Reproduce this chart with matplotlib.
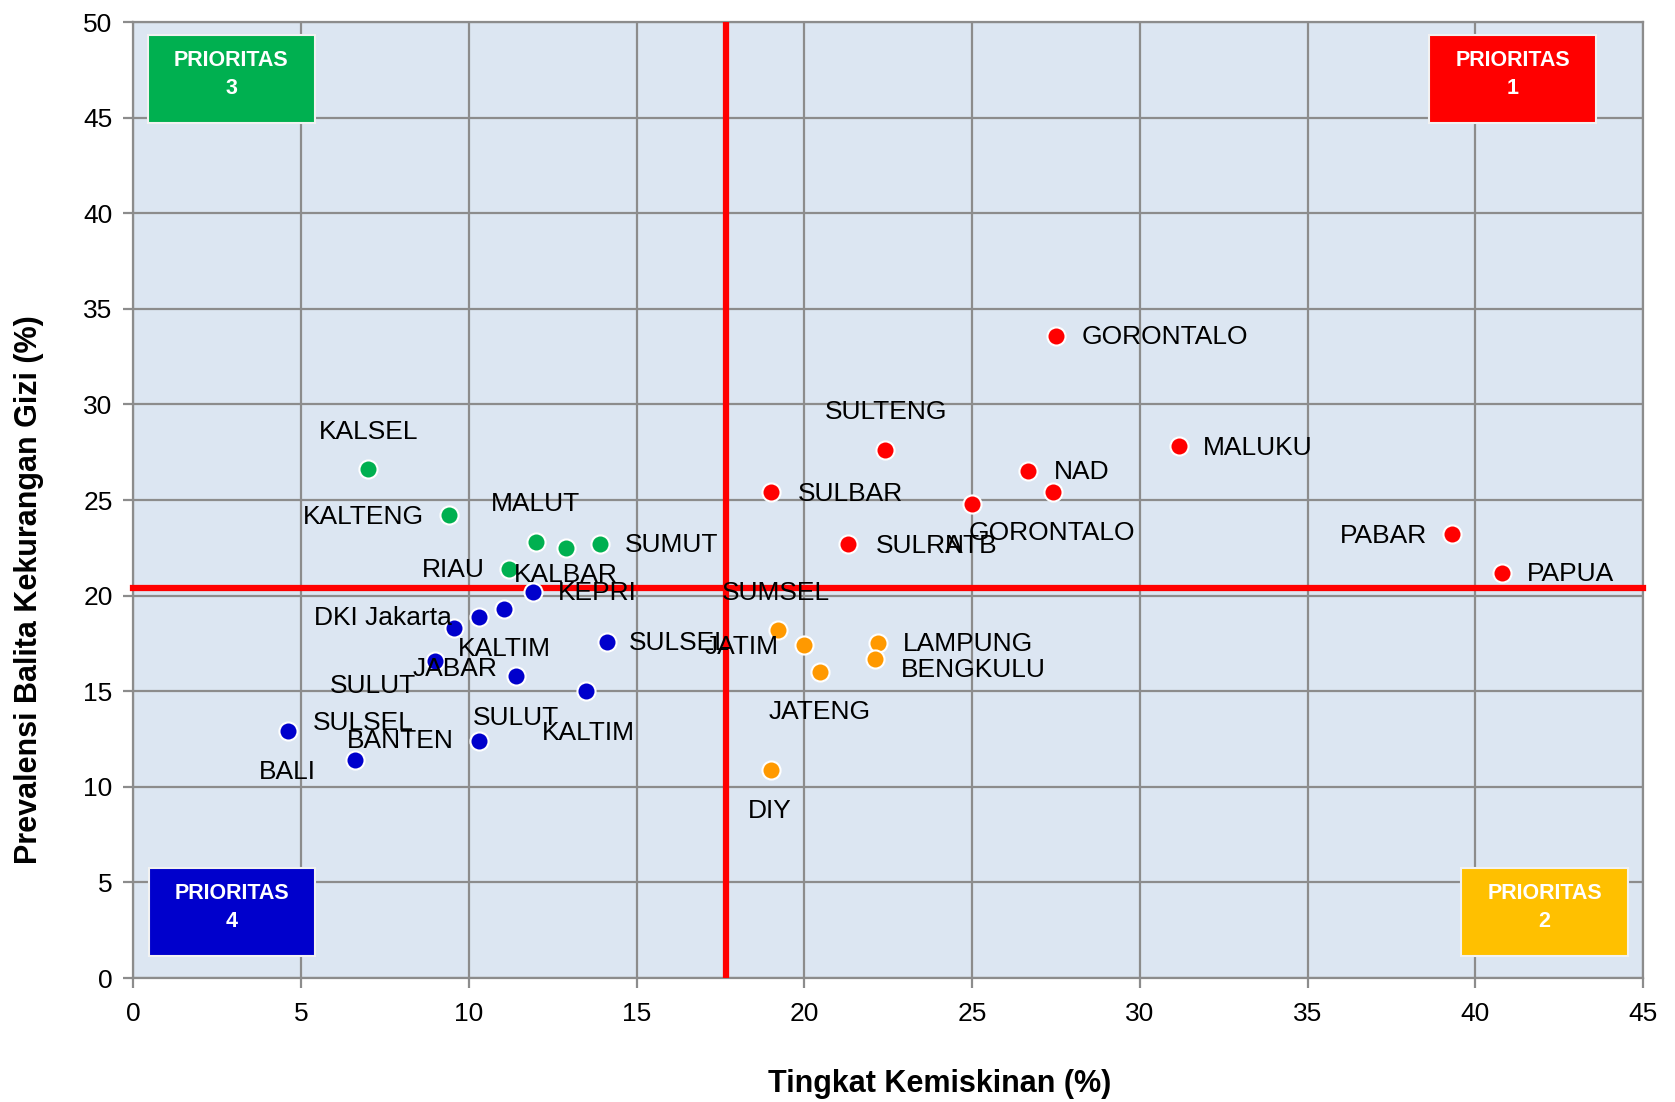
import matplotlib
matplotlib.use("Agg")
import matplotlib.pyplot as plt
from matplotlib import font_manager
from matplotlib.patches import Rectangle

# data: (tingkat kemiskinan, prevalensi gizi kurang)
green_x = [7.0, 9.4, 12.0, 12.9, 13.9, 11.2]
green_y = [26.6, 24.2, 22.8, 22.5, 22.7, 21.4]
blue_x = [11.9, 11.05, 10.3, 9.55, 14.1, 9.0, 11.4, 13.5, 4.6, 6.6, 10.3]
blue_y = [20.2, 19.3, 18.9, 18.3, 17.6, 16.6, 15.8, 15.0, 12.9, 11.4, 12.4]
orange_x = [19.2, 20.0, 20.45, 22.2, 22.1, 19.0]
orange_y = [18.2, 17.4, 16.0, 17.5, 16.7, 10.9]
red_x = [19.0, 22.4, 21.3, 25.0, 26.65, 27.4, 27.5, 31.15, 39.3, 40.8]
red_y = [25.4, 27.6, 22.7, 24.8, 26.5, 25.4, 33.6, 27.8, 23.2, 21.2]

labels = ["KALSEL", "KALTENG", "MALUT", "SUMUT", "RIAU", "KALBAR",
          "KEPRI", "DKI Jakarta", "KALTIM", "JABAR", "SULUT", "SULSEL",
          "BANTEN", "BALI", "SULUT", "KALTIM", "SULSEL",
          "SUMSEL", "JATIM", "JATENG", "DIY", "LAMPUNG", "BENGKULU",
          "SULBAR", "SULTENG", "SULRA", "NTB", "GORONTALO", "NAD",
          "GORONTALO", "MALUKU", "PABAR", "PAPUA"]
# label centres as placed in the original chart
label_x = [7.01, 6.85, 11.97, 16.05, 9.52, 12.90,
           13.82, 7.45, 11.05, 9.59, 7.13, 6.85,
           7.96, 4.59, 11.40, 13.57, 16.27,
           19.14, 18.12, 20.45, 18.98, 24.87, 25.03,
           21.37, 22.42, 23.44, 24.97, 27.36, 28.25,
           30.73, 33.50, 37.26, 42.83]
label_y = [28.57, 24.11, 24.78, 22.66, 21.32, 21.09,
           20.15, 18.81, 17.19, 16.18, 15.29, 13.34,
           12.39, 10.77, 13.62, 12.83, 17.52,
           20.15, 17.30, 13.90, 8.71, 17.47, 16.13,
           25.33, 29.63, 22.60, 22.60, 23.27, 26.45,
           33.54, 27.73, 23.10, 21.15]

cut_x = 17.67
cut_y = 20.42

names = {f.name for f in font_manager.fontManager.ttflist}
if "Liberation Sans Narrow" in names:
    fam = ["Liberation Sans Narrow", "DejaVu Sans"]
    fs = 22
else:
    fam = ["Liberation Sans", "DejaVu Sans"]
    fs = 19
plt.rcParams["font.family"] = fam

fig = plt.figure(figsize=(16.75, 11.02), dpi=100)
ax = fig.add_axes([0.0797, 0.1125, 0.9013, 0.8675])
ax.set_facecolor("#DCE6F2")

ax.scatter(green_x, green_y, s=170, color="#00B050", edgecolors="white", linewidths=1.5, zorder=4)
ax.scatter(blue_x, blue_y, s=170, color="#0000CC", edgecolors="white", linewidths=1.5, zorder=4)
ax.scatter(orange_x, orange_y, s=170, color="#FF9900", edgecolors="white", linewidths=1.5, zorder=4)
ax.scatter(red_x, red_y, s=170, color="#FF0000", edgecolors="white", linewidths=1.5, zorder=4)

ax.axvline(cut_x, color="#FF0000", lw=4.5, zorder=3)
ax.axhline(cut_y, color="#FF0000", lw=4.5, zorder=3, clip_on=False)

for t, x, y in zip(labels, label_x, label_y):
    ax.text(x, y, t, ha="center", va="center", fontsize=fs, color="black", zorder=6)

boxes = [(0.43, 44.7, "#00B050", "PRIORITAS\n3"),
         (38.62, 44.7, "#FF0000", "PRIORITAS\n1"),
         (0.45, 1.15, "#0000CC", "PRIORITAS\n4"),
         (39.58, 1.15, "#FFC000", "PRIORITAS\n2")]
for bx, by, c, t in boxes:
    ax.add_patch(Rectangle((bx, by), 4.97, 4.6, facecolor=c, edgecolor="#F2F2F2", lw=1.5, zorder=5))
    ax.text(bx + 2.485, by + 2.55, t, ha="center", va="center", color="white",
            fontsize=15.5, fontweight="bold", linespacing=1.45, zorder=6)

ax.set_xlim(0, 45)
ax.set_ylim(0, 50)
ax.set_xticks(range(0, 46, 5))
ax.set_yticks(range(0, 51, 5))
ax.grid(True, color="#8C8C8C", lw=1.6)
ax.set_axisbelow(True)
for sp in ax.spines.values():
    sp.set_color("#8C8C8C")
    sp.set_linewidth(1.6)
ax.tick_params(axis="both", colors="#8C8C8C", width=1.6, length=7, labelcolor="black", labelsize=fs)
ax.tick_params(axis="x", pad=10)
ax.tick_params(axis="y", pad=8)

ax.set_xlabel("Tingkat Kemiskinan (%)", fontsize=22, fontweight="bold", va="center")
ax.set_ylabel("Prevalensi Balita Kekurangan Gizi (%)", fontsize=22, fontweight="bold", va="center")
ax.xaxis.set_label_coords(0.534, -0.1105)
ax.yaxis.set_label_coords(-0.069, 0.406)

fig.savefig("out.png", dpi=100)
